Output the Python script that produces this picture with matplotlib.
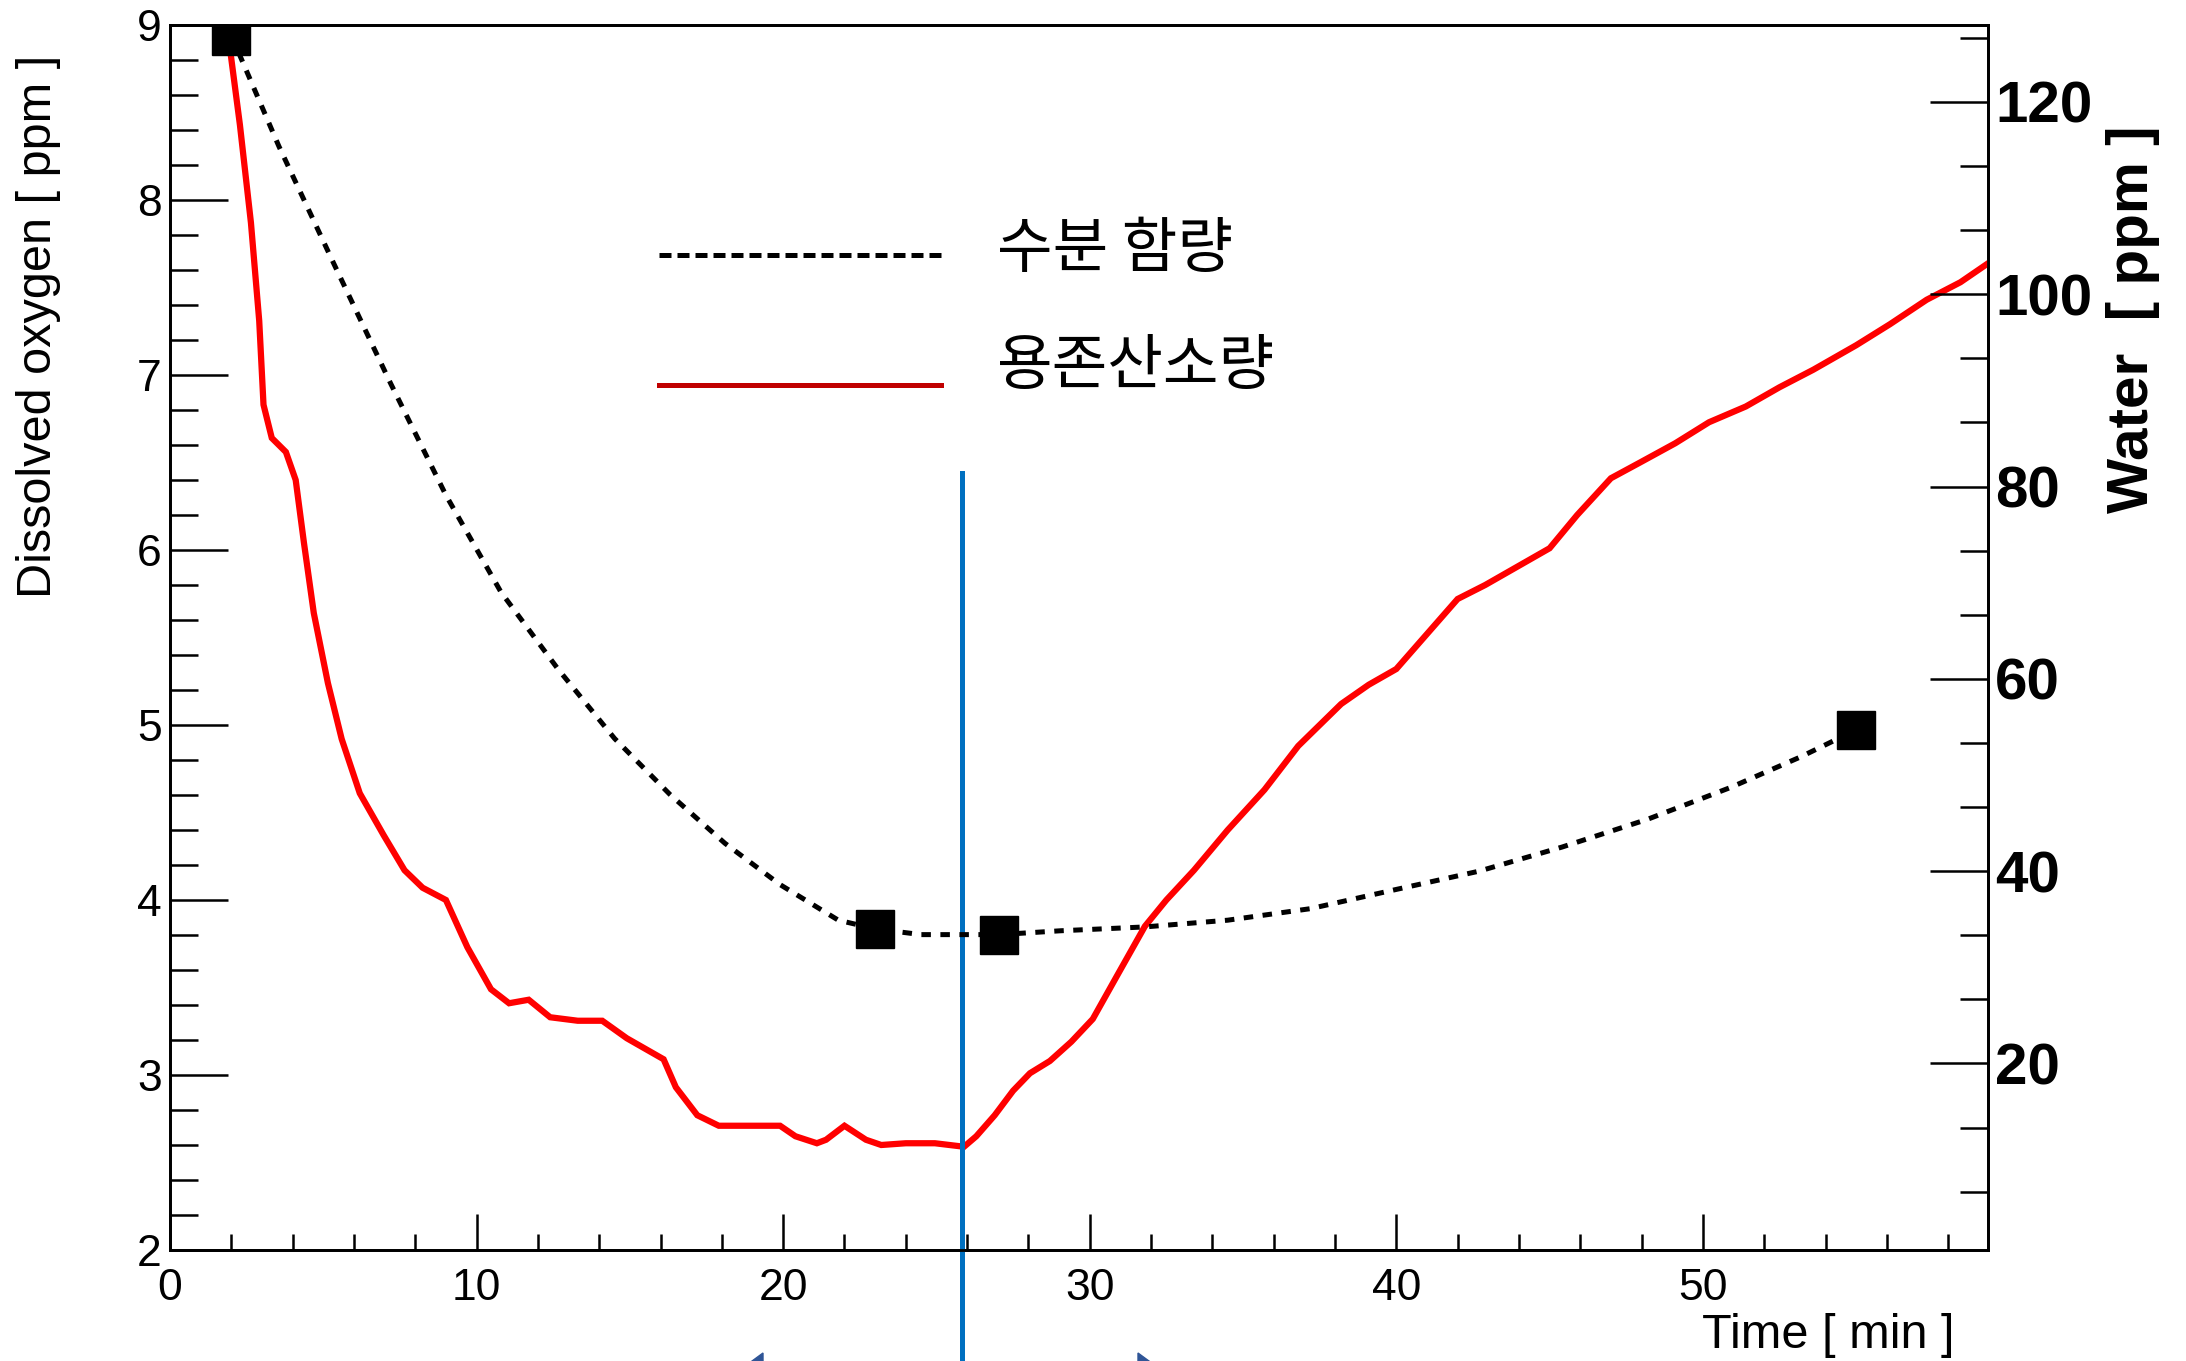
import matplotlib
matplotlib.use('Agg')
import matplotlib.pyplot as plt
from matplotlib.ticker import MultipleLocator, FixedLocator
from matplotlib.lines import Line2D
from matplotlib.patches import Polygon

plt.rcParams['font.family'] = ['Liberation Sans', 'DejaVu Sans']

# ---------------- data ----------------
time_do = [1.96, 2.28, 2.64, 2.91, 3.05, 3.32, 3.78, 4.1, 4.37, 4.69, 5.15, 5.6, 6.19,
           6.97, 7.65, 8.24, 9.0, 9.7, 10.47, 11.06, 11.7, 12.4, 13.3, 14.1, 14.9,
           16.1, 16.5, 17.2, 17.9, 19.9, 20.4, 21.1, 21.4, 22.0, 22.7, 23.2, 24.0,
           24.95, 25.9, 26.3, 26.9, 27.5, 28.05, 28.7, 29.4, 30.1, 30.9, 31.8, 32.5,
           33.4, 34.5, 35.7, 36.8, 38.2, 39.1, 40.0, 40.9, 42.0, 42.9, 44.1, 45.0,
           45.9, 47.0, 47.95, 49.1, 50.2, 51.4, 52.5, 53.6, 55.0, 56.1, 57.3, 58.4, 59.4]
do_ppm = [8.86, 8.43, 7.87, 7.31, 6.83, 6.64, 6.56, 6.40, 6.04, 5.64, 5.24, 4.92, 4.61,
          4.37, 4.17, 4.07, 4.00, 3.73, 3.49, 3.41, 3.43, 3.33, 3.31, 3.31, 3.21,
          3.09, 2.93, 2.77, 2.71, 2.71, 2.65, 2.61, 2.63, 2.71, 2.63, 2.60, 2.61,
          2.61, 2.59, 2.65, 2.77, 2.91, 3.01, 3.08, 3.19, 3.32, 3.57, 3.85, 4.00,
          4.17, 4.40, 4.63, 4.88, 5.12, 5.23, 5.32, 5.50, 5.72, 5.80, 5.92, 6.01,
          6.20, 6.41, 6.50, 6.61, 6.73, 6.82, 6.93, 7.03, 7.17, 7.29, 7.43, 7.53, 7.65]

time_water_curve = [2.0, 3.55, 5.37, 7.2, 9.0, 10.8, 12.66, 14.5, 16.3, 18.1, 19.9, 21.8,
                    23.0, 24.5, 27.05, 29.05, 31.8, 34.5, 37.2, 40.0, 42.7, 45.4, 48.2,
                    50.9, 53.2, 55.0]
water_curve = [126.9, 115.4, 103.0, 90.7, 79.1, 69.0, 61.0, 53.8, 48.0, 42.9, 38.6, 34.9,
               34.0, 33.4, 33.4, 33.8, 34.2, 34.9, 36.1, 38.1, 40.0, 42.5, 45.4,
               48.7, 51.9, 54.7]
time_water_pts = [2.0, 23.0, 27.05, 55.0]
water_pts = [126.9, 34.0, 33.4, 54.7]

x_major = [0, 10, 20, 30, 40, 50]
left_major = [2, 3, 4, 5, 6, 7, 8, 9]
right_major = [20, 40, 60, 80, 100, 120]
legend_labels = ['수분 함량', '용존산소량']
split_time = 25.83

# ---------------- figure ----------------
W, H = 2186, 1361
fig = plt.figure(figsize=(W / 100, H / 100), dpi=100)
L, R, T, B = 170, 1988, 25, 1250
ax = fig.add_axes([L / W, 1 - B / H, (R - L) / W, (B - T) / H])
ax2 = ax.twinx()

ax.set_xlim(0, 59.3)
ax.set_ylim(2, 9)
ax2.set_ylim(0.6, 128)

for a in (ax, ax2):
    for s in a.spines.values():
        s.set_linewidth(2.0)
        s.set_color('black')

# red dissolved oxygen
ax.plot(time_do, do_ppm, color='#ff0000', lw=4.5, solid_joinstyle='miter', zorder=3)

# water dotted curve + markers
ax2.plot(time_water_curve, water_curve, color='black', lw=3.6,
         linestyle=(0, (1.9, 1.9)), zorder=3)
ax2.plot(time_water_pts, water_pts, 's', color='black', markersize=28, zorder=4)

# ticks
ax.xaxis.set_major_locator(FixedLocator(x_major))
ax.xaxis.set_minor_locator(MultipleLocator(2))
ax.yaxis.set_major_locator(FixedLocator(left_major))
ax.yaxis.set_minor_locator(MultipleLocator(0.2))
ax2.yaxis.set_major_locator(FixedLocator(right_major))
ax2.yaxis.set_minor_locator(MultipleLocator(20 / 3))

ax.tick_params(axis='x', which='major', direction='in', length=26, width=1.8,
               labelsize=32, pad=13, top=False)
ax.tick_params(axis='x', which='minor', direction='in', length=11.5, width=1.8, top=False)
ax.tick_params(axis='y', which='major', direction='in', length=42, width=1.8,
               labelsize=32, pad=6, right=False)
ax.tick_params(axis='y', which='minor', direction='in', length=20, width=1.8, right=False)
ax2.tick_params(axis='y', which='major', direction='in', length=42, width=1.8,
                labelsize=42, pad=5)
ax2.tick_params(axis='y', which='minor', direction='in', length=20, width=1.8)
for lab in ax2.get_yticklabels():
    lab.set_fontweight('bold')

# axis titles
fig.text(39 / W, 1 - 326 / H, 'Dissolved oxygen [ ppm ]', rotation=90,
         ha='center', va='center', fontsize=35)
fig.text(2133 / W, 1 - 319 / H, 'Water  [ ppm ]', rotation=90,
         ha='center', va='center', fontsize=42, fontweight='bold')
fig.text(1954 / W, 1 - 1336 / H, 'Time [ min ]', ha='right', va='center', fontsize=35)

# split line
ax.plot([split_time, split_time], [6.44, 1.3], color='#0070c0', lw=3.6,
        clip_on=False, zorder=5)

# legend (manual)
fig.add_artist(Line2D([659 / W, 941 / W], [1 - 255 / H, 1 - 255 / H], color='black',
                      lw=3.6, linestyle=(0, (2.4, 1.2))))
fig.add_artist(Line2D([659 / W, 941 / W], [1 - 385 / H, 1 - 385 / H], color='#c00000',
                      lw=3.6))
ko = ['Noto Sans CJK KR', 'DejaVu Sans']
fig.text(997 / W, 1 - 250 / H, legend_labels[0], family=ko, fontsize=43.5,
         ha='left', va='center')
fig.text(997 / W, 1 - 367 / H, legend_labels[1], family=ko, fontsize=43.5,
         ha='left', va='center')

# arrow tips at the bottom edge (cut off)
def px(x, y):
    return (x / W, 1 - y / H)

arrow_col = '#2f5597'
fig.add_artist(Polygon([px(733, 1375), px(763, 1353), px(763, 1397)], closed=True,
                       color=arrow_col, transform=fig.transFigure))
fig.add_artist(Polygon([px(1168, 1375), px(1138, 1353), px(1138, 1397)], closed=True,
                       color=arrow_col, transform=fig.transFigure))

fig.savefig('out.png', dpi=100)
